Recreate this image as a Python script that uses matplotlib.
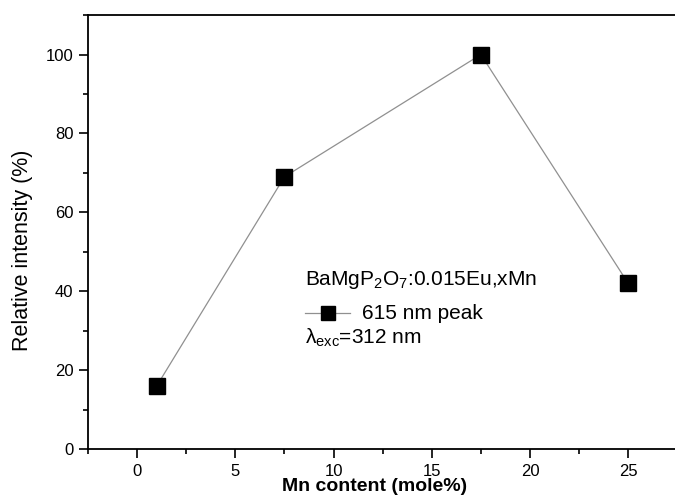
import matplotlib
matplotlib.use('Agg')
import matplotlib.pyplot as plt
from matplotlib.ticker import MultipleLocator

# Mn content (mole%) and relative intensity of the 615 nm peak
mn_content = [1, 7.5, 17.5, 25]
rel_intensity = [16, 69, 100, 42]

plt.rcParams['font.family'] = ['Liberation Sans', 'DejaVu Sans']
plt.rcParams['mathtext.fontset'] = 'custom'
plt.rcParams['mathtext.rm'] = 'Liberation Sans'

fig = plt.figure(figsize=(6.75, 4.97), dpi=100)
ax = fig.add_axes([0.1304, 0.0966, 0.873, 0.873])

ax.plot(mn_content, rel_intensity, color='#909090', lw=0.9,
        marker='s', markersize=11.5, markerfacecolor='black',
        markeredgecolor='black')

ax.set_xlim(-2.5, 27.5)
ax.set_ylim(0, 110)
ax.xaxis.set_major_locator(MultipleLocator(5))
ax.xaxis.set_minor_locator(MultipleLocator(2.5))
ax.yaxis.set_major_locator(MultipleLocator(20))
ax.yaxis.set_minor_locator(MultipleLocator(10))
ax.tick_params(which='major', direction='out', length=6.5, width=1.2,
               labelsize=12, pad=4, top=False, right=False)
ax.tick_params(which='minor', direction='out', length=3.5, width=1.2,
               top=False, right=False)
for side in ['left', 'bottom', 'top']:
    ax.spines[side].set_linewidth(1.3)
ax.spines['right'].set_visible(False)

ax.set_xlabel('Mn content (mole%)', fontsize=14, fontweight='bold')
ax.xaxis.set_label_coords(0.486, -0.067)
ax.set_ylabel('Relative intensity (%)', fontsize=15.5)
ax.yaxis.set_label_coords(-0.093, 0.458)

# annotation block
ax.text(8.55, 42.8, r'BaMgP$_\mathregular{2}$O$_\mathregular{7}$:0.015Eu,xMn',
        fontsize=15, va='center', ha='left')
ax.plot([8.55, 10.85], [34.4, 34.4], color='#909090', lw=0.9)
ax.plot([9.7], [34.4], marker='s', markersize=9.5, color='black')
ax.text(11.45, 34.4, '615 nm peak', fontsize=15, va='center', ha='left')
ax.text(8.55, 28.1, r'λ$_\mathregular{exc}$=312 nm', fontsize=15,
        va='center', ha='left')

fig.savefig('out.png', dpi=100)
